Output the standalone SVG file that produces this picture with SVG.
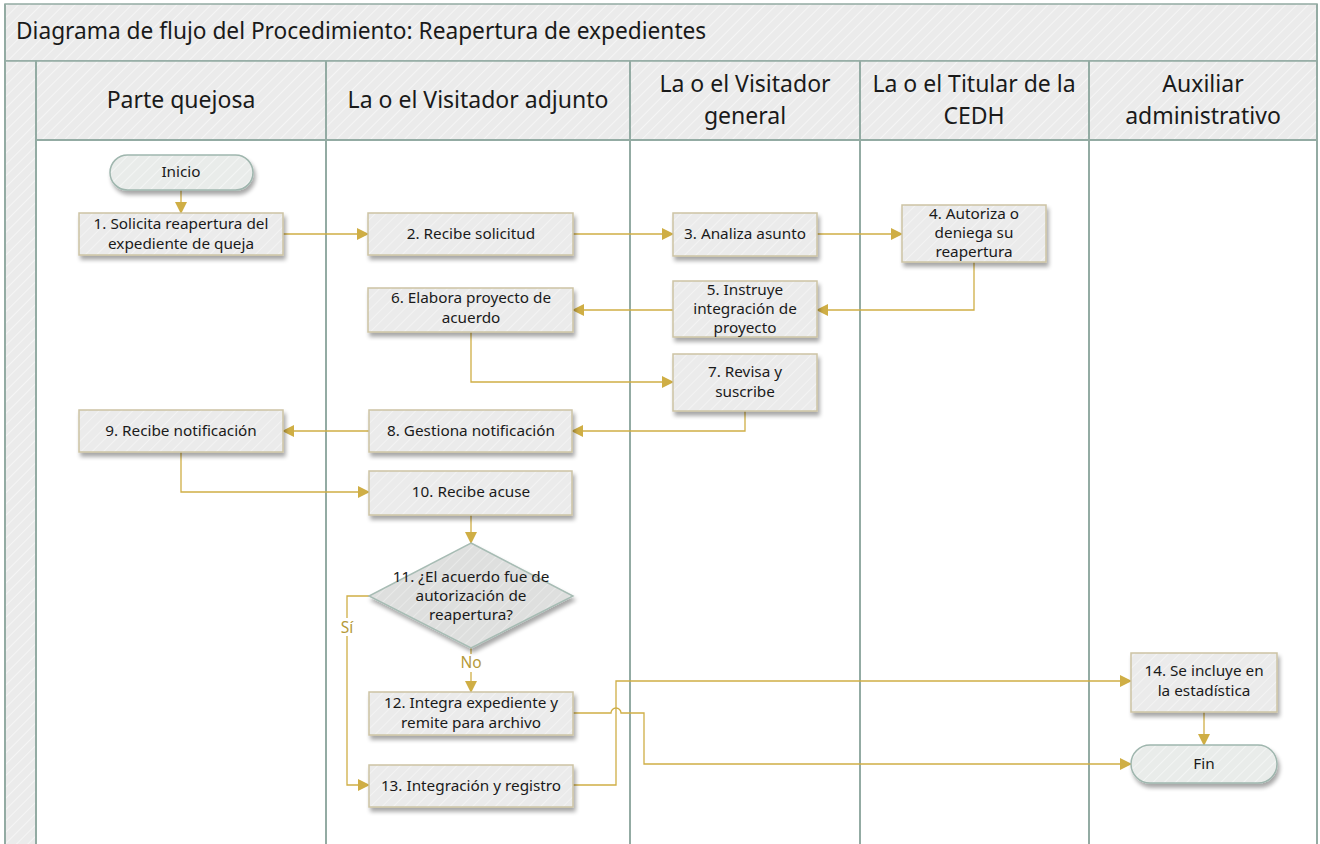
<svg xmlns="http://www.w3.org/2000/svg" width="1320" height="844" viewBox="0 0 1320 844">
<style>
.lane{fill:url(#hatch);stroke:#93aba3;stroke-width:1.5}
.sep{stroke:#93aba3;stroke-width:2;fill:none}
.hdr{font-family:"Noto Sans","Open Sans",sans-serif;font-size:23px;fill:#1a1a1a;text-anchor:middle}
.ttl{font-family:"Noto Sans","Open Sans",sans-serif;font-size:22.7px;fill:#1a1a1a}
.box{fill:url(#nhatch);stroke:#cdc4a4;stroke-width:1.5;filter:url(#sh)}
.term{fill:url(#thatch);stroke:#9fb6ae;stroke-width:1.5;filter:url(#sh)}
.dia{fill:url(#dhatch);stroke:#a7bcb4;stroke-width:1.5;filter:url(#sh)}
.t{font-family:"Noto Sans","Open Sans",sans-serif;font-size:15.3px;fill:#1a1a1a;text-anchor:middle}
.c{fill:none;stroke:#cfae45;stroke-width:1.3}
.lbl{font-family:"Noto Sans","Open Sans",sans-serif;font-size:15.5px;fill:#b59a3a;text-anchor:middle}
</style>
<defs>
<pattern id="hatch" width="8" height="8" patternUnits="userSpaceOnUse" patternTransform="rotate(45)">
<rect width="8" height="8" fill="#ebebeb"/><line x1="0" y1="0" x2="0" y2="8" stroke="#f5f5f5" stroke-width="2"/>
</pattern>
<pattern id="nhatch" width="8" height="8" patternUnits="userSpaceOnUse" patternTransform="rotate(45)">
<rect width="8" height="8" fill="#ebebeb"/><line x1="0" y1="0" x2="0" y2="8" stroke="#f3f3f3" stroke-width="2"/>
</pattern>
<pattern id="thatch" width="8" height="8" patternUnits="userSpaceOnUse" patternTransform="rotate(45)">
<rect width="8" height="8" fill="#e9ecea"/><line x1="0" y1="0" x2="0" y2="8" stroke="#f3f5f4" stroke-width="2"/>
</pattern>
<pattern id="dhatch" width="8" height="8" patternUnits="userSpaceOnUse" patternTransform="rotate(45)">
<rect width="8" height="8" fill="#dedfde"/><line x1="0" y1="0" x2="0" y2="8" stroke="#e8e9e8" stroke-width="2"/>
</pattern>
<filter id="sh" x="-10%" y="-10%" width="125%" height="140%">
<feGaussianBlur in="SourceAlpha" stdDeviation="2"/>
<feOffset dx="2" dy="4" result="o"/>
<feComponentTransfer><feFuncA type="linear" slope="0.35"/></feComponentTransfer>
<feMerge><feMergeNode/><feMergeNode in="SourceGraphic"/></feMerge>
</filter>
<filter id="hsh" x="0" y="-50%" width="100%" height="300%">
<feGaussianBlur stdDeviation="1.5"/>
</filter>
<marker id="ar" markerWidth="12" markerHeight="12" refX="11" refY="6" orient="auto" markerUnits="userSpaceOnUse">
<path d="M0,0 L12,6 L0,12 Z" fill="#cfae45"/>
</marker>
</defs>

<g id="pool">
<rect x="0" y="0" width="1320" height="844" fill="#ffffff"/>
<rect class="lane" x="5" y="4" width="1312" height="57"/>
<text class="ttl" x="16" y="39">Diagrama de flujo del Procedimiento: Reapertura de expedientes</text>
<rect class="lane" x="5" y="61" width="31" height="790"/>
<rect class="lane" x="36" y="61" width="1281" height="79"/>
<line x1="37" y1="142" x2="1317" y2="142" stroke="#8a9a95" stroke-width="2" opacity="0.5" filter="url(#hsh)"/>
<line class="sep" x1="36" y1="140" x2="1317" y2="140"/>
<line class="sep" x1="36" y1="61" x2="36" y2="844"/>
<line class="sep" x1="326" y1="61" x2="326" y2="844"/>
<line class="sep" x1="630" y1="61" x2="630" y2="844"/>
<line class="sep" x1="860" y1="61" x2="860" y2="844"/>
<line class="sep" x1="1089" y1="61" x2="1089" y2="844"/>
<line class="sep" x1="1317" y1="4" x2="1317" y2="844"/>
<line class="sep" x1="5" y1="4" x2="5" y2="844"/>
<text class="hdr" x="181" y="108">Parte quejosa</text>
<text class="hdr" x="478" y="108">La o el Visitador adjunto</text>
<text class="hdr" x="745" y="92">La o el Visitador</text>
<text class="hdr" x="745" y="124">general</text>
<text class="hdr" x="974" y="92">La o el Titular de la</text>
<text class="hdr" x="974" y="124">CEDH</text>
<text class="hdr" x="1203" y="92">Auxiliar</text>
<text class="hdr" x="1203" y="124">administrativo</text>
</g>

<g id="connectors">
<path class="c" d="M181,190 V213" marker-end="url(#ar)"/>
<path class="c" d="M283,234 H368" marker-end="url(#ar)"/>
<path class="c" d="M573,234 H673" marker-end="url(#ar)"/>
<path class="c" d="M817,234 H902" marker-end="url(#ar)"/>
<path class="c" d="M974,262 V310 H817" marker-end="url(#ar)"/>
<path class="c" d="M673,310 H573" marker-end="url(#ar)"/>
<path class="c" d="M471,332 V382 H673" marker-end="url(#ar)"/>
<path class="c" d="M745,411 V431 H572" marker-end="url(#ar)"/>
<path class="c" d="M369,431 H283" marker-end="url(#ar)"/>
<path class="c" d="M181,452 V492 H369" marker-end="url(#ar)"/>
<path class="c" d="M471,515 V543" marker-end="url(#ar)"/>
<path class="c" d="M471,648 V692" marker-end="url(#ar)"/>
<path class="c" d="M369,596 H347 V785 H369" marker-end="url(#ar)"/>
<path class="c" d="M573,713 H611 A5,5 0 0 1 621,713 H644 V764 H1131" marker-end="url(#ar)"/>
<path class="c" d="M573,785 H616 V681 H1131" marker-end="url(#ar)"/>
<path class="c" d="M1204,712 V745" marker-end="url(#ar)"/>
<rect x="459" y="654" width="24" height="18" fill="#ffffff"/>
<text class="lbl" x="471" y="668">No</text>
<rect x="338" y="618" width="18" height="18" fill="#ffffff"/>
<text class="lbl" x="347" y="633">Sí</text>
</g>

<g id="n0"><rect class="term" x="110" y="155" width="143" height="35" rx="17.5"/><text class="t" x="181" y="177">Inicio</text></g>
<g id="n1"><rect class="box" x="79" y="213" width="204" height="42"/><text class="t" x="181" y="229">1. Solicita reapertura del</text><text class="t" x="181" y="249">expediente de queja</text></g>
<g id="n2"><rect class="box" x="368" y="213" width="205" height="42"/><text class="t" x="471" y="239">2. Recibe solicitud</text></g>
<g id="n3"><rect class="box" x="673" y="213" width="144" height="43"/><text class="t" x="745" y="239">3. Analiza asunto</text></g>
<g id="n4"><rect class="box" x="902" y="205" width="144" height="57"/><text class="t" x="974" y="219">4. Autoriza o</text><text class="t" x="974" y="238">deniega su</text><text class="t" x="974" y="257">reapertura</text></g>
<g id="n5"><rect class="box" x="673" y="281" width="144" height="56"/><text class="t" x="745" y="295">5. Instruye</text><text class="t" x="745" y="314">integración de</text><text class="t" x="745" y="333">proyecto</text></g>
<g id="n6"><rect class="box" x="368" y="288" width="205" height="44"/><text class="t" x="471" y="303">6. Elabora proyecto de</text><text class="t" x="471" y="323">acuerdo</text></g>
<g id="n7"><rect class="box" x="673" y="354" width="144" height="57"/><text class="t" x="745" y="377">7. Revisa y</text><text class="t" x="745" y="397">suscribe</text></g>
<g id="n8"><rect class="box" x="369" y="410" width="203" height="42"/><text class="t" x="471" y="436">8. Gestiona notificación</text></g>
<g id="n9"><rect class="box" x="79" y="410" width="204" height="42"/><text class="t" x="181" y="436">9. Recibe notificación</text></g>
<g id="n10"><rect class="box" x="369" y="471" width="203" height="44"/><text class="t" x="471" y="497">10. Recibe acuse</text></g>
<g id="n11"><polygon class="dia" points="471,543 573,596 471,648 369,596"/><text class="t" x="471" y="582">11. ¿El acuerdo fue de</text><text class="t" x="471" y="601">autorización de</text><text class="t" x="471" y="620">reapertura?</text></g>
<g id="n12"><rect class="box" x="369" y="692" width="204" height="43"/><text class="t" x="471" y="708">12. Integra expediente y</text><text class="t" x="471" y="728">remite para archivo</text></g>
<g id="n13"><rect class="box" x="369" y="765" width="204" height="42"/><text class="t" x="471" y="791">13. Integración y registro</text></g>
<g id="n14"><rect class="box" x="1131" y="653" width="146" height="59"/><text class="t" x="1204" y="676">14. Se incluye en</text><text class="t" x="1204" y="696">la estadística</text></g>
<g id="n15"><rect class="term" x="1131" y="745" width="146" height="38" rx="19"/><text class="t" x="1204" y="769">Fin</text></g>
</svg>
